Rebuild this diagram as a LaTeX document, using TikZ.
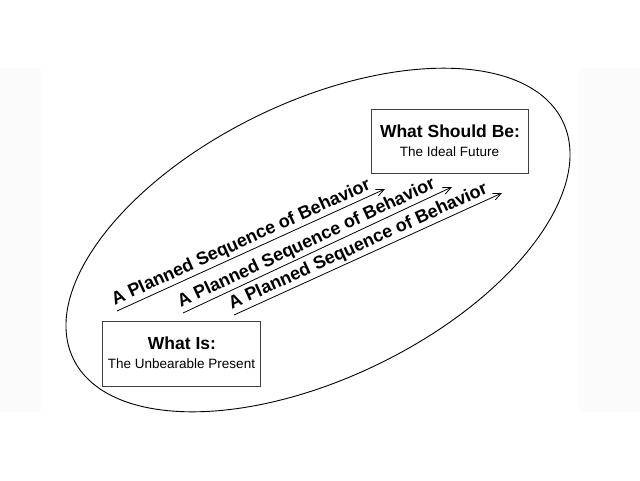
\documentclass[tikz,border=0pt]{standalone}
\usepackage{fontspec}
\setmainfont{Liberation Sans}
\usetikzlibrary{arrows.meta}
\begin{document}
\begin{tikzpicture}[x=1pt,y=-1pt,
  band/.style={fill=black!1.5,draw=none},
  stagebox/.style={draw=black!75,line width=1pt,minimum width=157pt,minimum height=64pt,inner sep=0pt},
  title/.style={font=\bfseries\fontsize{17.5}{20}\selectfont,anchor=base,inner sep=0pt},
  subtitle/.style={font=\fontsize{13.5}{16}\selectfont,anchor=base,inner sep=0pt},
  planarrow/.style={line width=0.8pt,-{Straight Barb[length=8pt,width=7pt,line width=0.8pt]}},
  plantext/.style={font=\bfseries\fontsize{18}{21}\selectfont,sloped,pos=0,anchor=south west,inner xsep=0pt,inner ysep=1.8pt}
]
\useasboundingbox (0,0) rectangle (640,480);
\fill[white] (0,0) rectangle (640,480);
\path[band] (0,68) rectangle (41,412);
\path[band] (579,68) rectangle (640,412);
% ellipse
\draw[line width=0.9pt,rotate around={25.9:(318,240)}] (318,240) ellipse [x radius=272pt, y radius=138pt];
% boxes
\node[stagebox] (future) at (449.5,141) {};
\node[title] (futuret) at (450,137.5) {What Should Be:};
\node[subtitle] (futures) at (449.5,156) {The Ideal Future};
\node[stagebox,minimum width=158pt,minimum height=65pt] (present) at (181,353.5) {};
\node[title] (presentt) at (182,349.3) {What Is:};
\node[subtitle] (presents) at (181.5,368.3) {The Unbearable Present};
% arrows
\coordinate (s1) at (117,311);
\coordinate (e1) at (385,189);
\coordinate (s2) at (183,313);
\coordinate (e2) at (452,187);
\coordinate (s3) at (234,315);
\coordinate (e3) at (502,193);
\draw[planarrow] (s1) -- (e1) node[plantext] (t1) {A Planned Sequence of Behavior};
\draw[planarrow] (s2) -- (e2) node[plantext] (t2) {A Planned Sequence of Behavior};
\draw[planarrow] (s3) -- (e3) node[plantext] (t3) {A Planned Sequence of Behavior};
\end{tikzpicture}
\end{document}
